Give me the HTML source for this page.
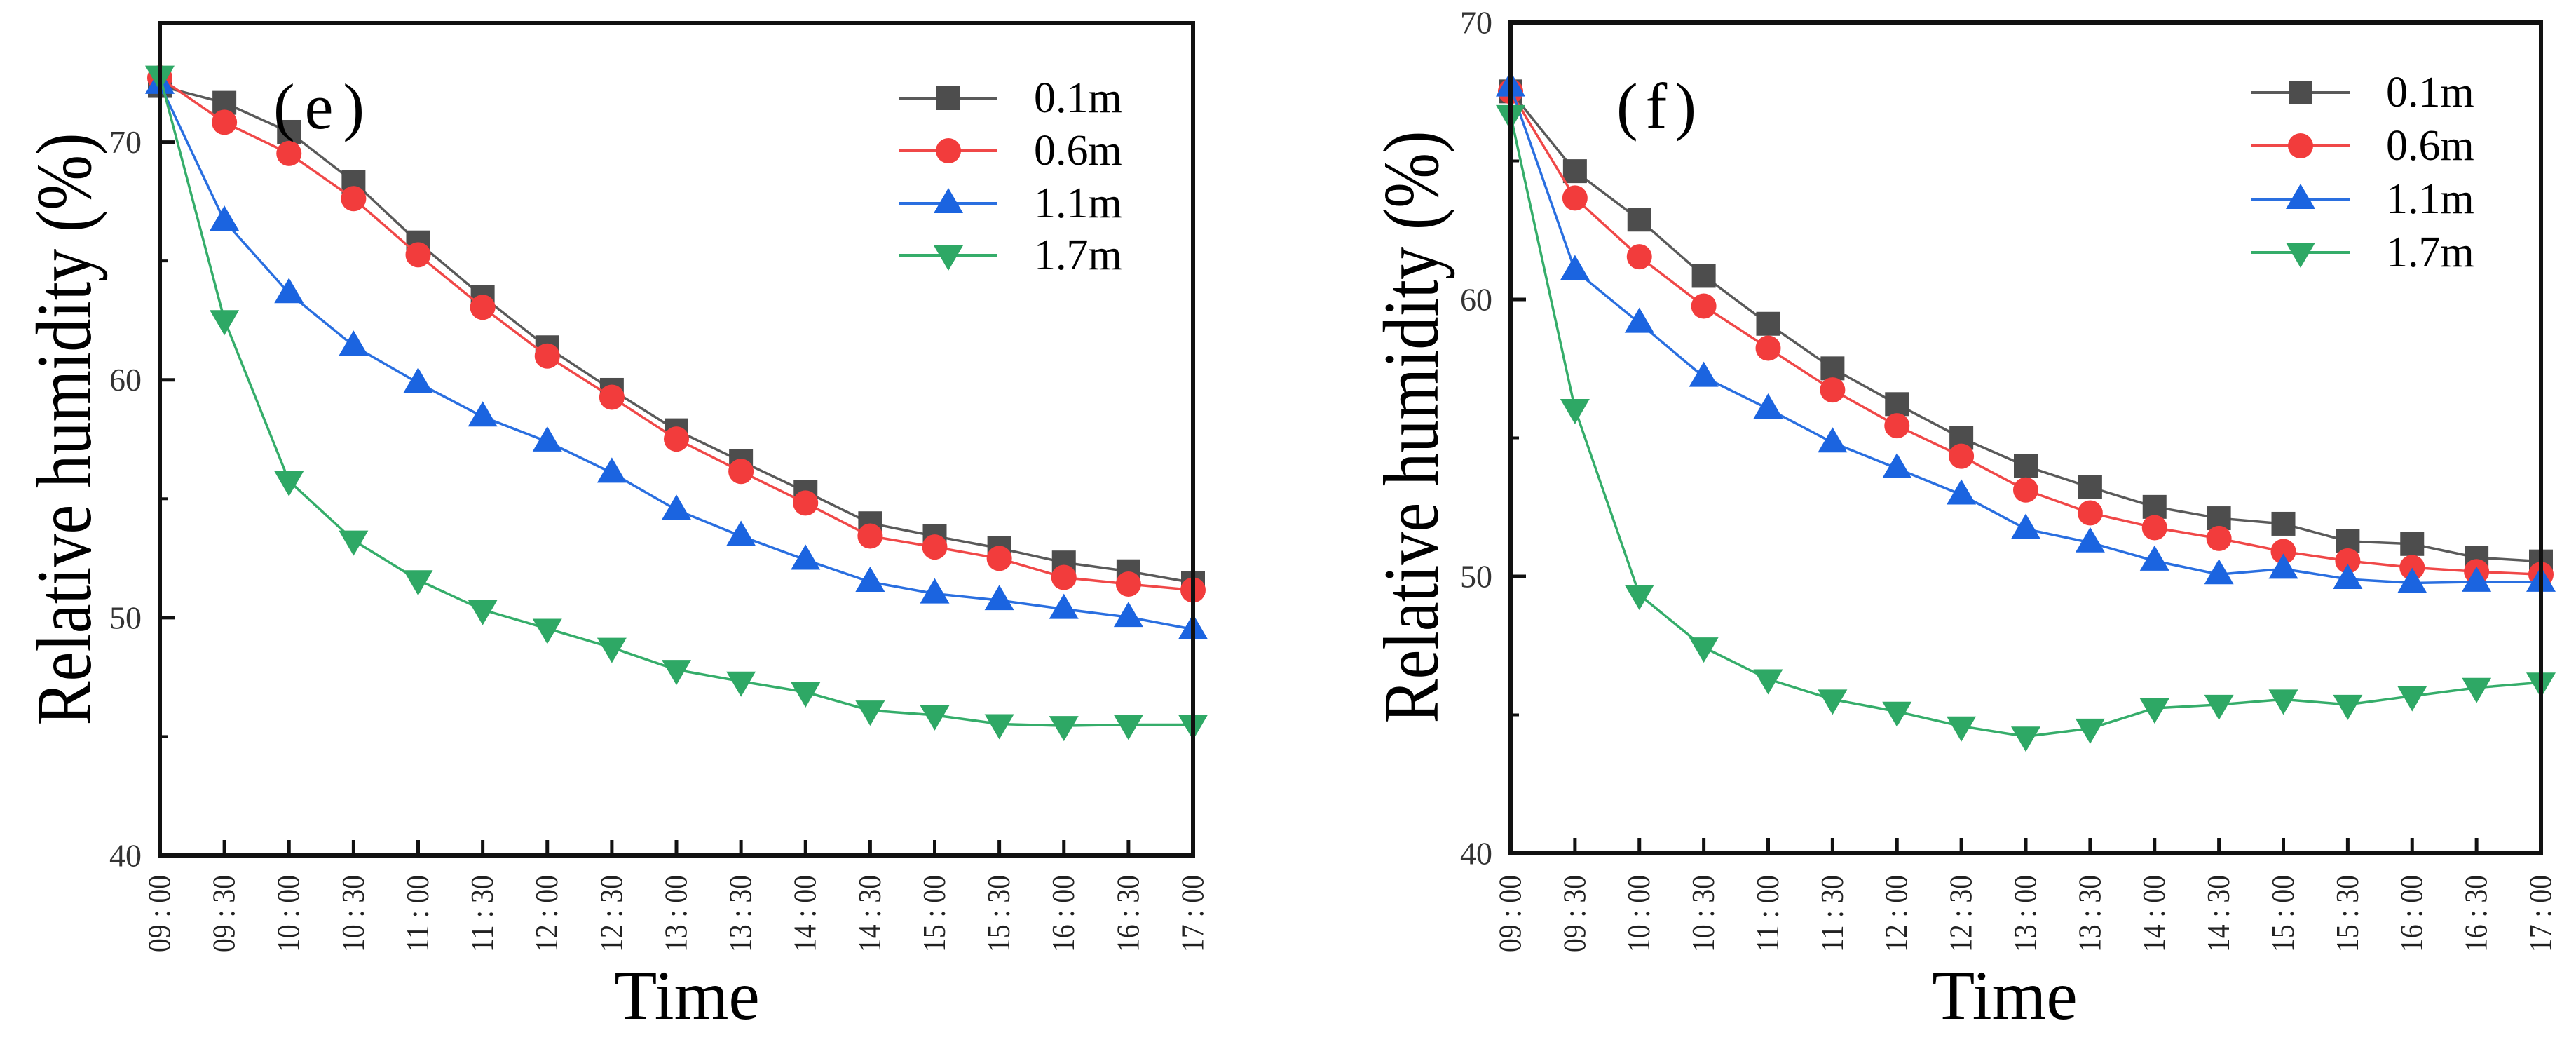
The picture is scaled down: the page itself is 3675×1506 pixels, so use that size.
<!DOCTYPE html>
<html><head><meta charset="utf-8"><style>
html,body{margin:0;padding:0;background:#fff;}
svg{display:block;}
svg text{font-family:"Liberation Serif",serif;}
</style></head><body>
<svg id="chart" width="3675" height="1506" viewBox="0 0 3675 1506" xmlns="http://www.w3.org/2000/svg"></svg>
<script>
const categories = ["09:00","09:30","10:00","10:30","11:00","11:30","12:00","12:30","13:00","13:30","14:00","14:30","15:00","15:30","16:00","16:30","17:00"];
const seriesNames = ["0.1m","0.6m","1.1m","1.7m"];
const eS01 = [72.36,71.65,70.43,68.33,65.78,63.5,61.37,59.58,57.88,56.58,55.3,53.97,53.43,52.92,52.32,51.95,51.47];
const eS06 = [72.7,70.83,69.52,67.62,65.26,63.05,61.0,59.27,57.51,56.15,54.82,53.43,52.97,52.49,51.69,51.41,51.16];
const eS11 = [72.44,66.68,63.64,61.43,59.87,58.45,57.4,56.09,54.53,53.43,52.43,51.5,51.01,50.73,50.36,50.02,49.51];
const eS17 = [72.8,62.52,55.75,53.25,51.58,50.33,49.54,48.74,47.81,47.32,46.87,46.1,45.9,45.53,45.45,45.5,45.5];
const fS01 = [67.51,64.63,62.88,60.85,59.12,57.51,56.22,55.0,53.98,53.22,52.51,52.1,51.9,51.27,51.17,50.68,50.54];
const fS06 = [67.51,63.66,61.54,59.76,58.24,56.73,55.44,54.34,53.12,52.29,51.76,51.37,50.9,50.56,50.32,50.17,50.07];
const fS11 = [67.68,61.05,59.15,57.2,56.05,54.83,53.9,52.95,51.71,51.22,50.56,50.07,50.27,49.9,49.76,49.8,49.8];
const fS17 = [66.66,56.05,49.34,47.44,46.29,45.56,45.12,44.59,44.22,44.51,45.24,45.37,45.56,45.37,45.68,45.98,46.17];
const eYTicks = [40,50,60,70];
const eYMinor = [45,55,65];
const eYRange = [40,75];
const fYTicks = [40,50,60,70];
const fYMinor = [45,55,65];
const fYRange = [40,70];

const NS = "http://www.w3.org/2000/svg";
const svg = document.getElementById("chart");
const FONT = '"Liberation Serif", serif';
function mk(tag, attrs, parent, text){
  const el = document.createElementNS(NS, tag);
  for (const k in attrs) el.setAttribute(k, attrs[k]);
  if (tag === "text") el.setAttribute("font-family", FONT);
  if (text !== undefined) el.textContent = text;
  (parent||svg).appendChild(el);
  return el;
}
function fitText(el, tx, ty, target){
  let w = 0;
  try { w = el.getComputedTextLength(); } catch(e) { w = 0; }
  const s = w > 0 ? target / w : 1;
  el.setAttribute("transform", `translate(${tx},${ty}) rotate(-90) scale(${s},1)`);
}
const colors = ["#4d4d4d","#f23c3c","#1b64e0","#2ea865"];
const lineColors = ["#5a5a5a","#f04848","#2a6fe0","#35ad6a"];
const shapes = ["square","circle","up","down"];

function marker(g, shape, cx, cy, color){
  let el;
  if (shape==="square") el = mk("rect",{x:cx-17,y:cy-17,width:34,height:34,fill:color},g);
  else if (shape==="circle") el = mk("circle",{cx:cx,cy:cy,r:18,fill:color},g);
  else if (shape==="up") el = mk("polygon",{points:`${cx},${cy-22} ${cx+21},${cy+14} ${cx-21},${cy+14}`,fill:color},g);
  else el = mk("polygon",{points:`${cx-21},${cy-14} ${cx+21},${cy-14} ${cx},${cy+22}`,fill:color},g);
  
  
}

function panel(cfg){
  const g = mk("g",{});
  
  
  const L=cfg.left,R=cfg.right,T=cfg.top,B=cfg.bottom;
  const xs = i => L + (R-L)*i/(categories.length-1);
  const ys = v => B - (v-cfg.yRange[0])/(cfg.yRange[1]-cfg.yRange[0])*(B-T);
  cfg.series.forEach((arr,si)=>{
    const sg = mk("g",{},g);
    
    
    const pts = arr.map((v,i)=>xs(i)+","+ys(v)).join(" ");
    const pl = mk("polyline",{points:pts,fill:"none",stroke:lineColors[si],"stroke-width":3.5},sg);
    
    
    arr.forEach((v,i)=>marker(sg,shapes[si],xs(i),ys(v),colors[si]));
  });
  const fr = mk("rect",{x:L,y:T,width:R-L,height:B-T,fill:"none",stroke:"#111","stroke-width":6},g);
  
  
  cfg.yTicks.forEach(v=>{
    const y=ys(v);
    const t = mk("line",{x1:L,y1:y,x2:L+22,y2:y,stroke:"#111","stroke-width":5},g);
    
    
    const lb = mk("text",{x:L-26,y:y,"text-anchor":"end","dominant-baseline":"central","font-size":46,fill:"#333"},g,String(v));
    
    
  });
  cfg.yMinor.forEach(v=>{
    const y=ys(v);
    const t = mk("line",{x1:L,y1:y,x2:L+12,y2:y,stroke:"#111","stroke-width":4},g);
    
    
  });
  categories.forEach((c,i)=>{
    const x=xs(i);
    const t = mk("line",{x1:x,y1:B,x2:x,y2:B-22,stroke:"#111","stroke-width":5},g);
    
    
    const lb = mk("text",{x:0,y:0,"text-anchor":"end","dominant-baseline":"central","font-size":46,fill:"#222"},g,c.replace(":"," : "));
    fitText(lb, x, 1248, 110);
    
    
  });
  const xt = mk("text",{x:cfg.timeX,y:1453,"text-anchor":"middle","font-size":100,fill:"#000"},g,"Time");
  
  
  const yt = mk("text",{x:0,y:0,"text-anchor":"middle","dominant-baseline":"central","font-size":112,fill:"#000"},g,"Relative humidity (%)");
  fitText(yt, cfg.yTitleX, cfg.yTitleY, 845);
  
  
  const pl = mk("text",{x:cfg.tagX,y:cfg.tagY,"text-anchor":"middle","dominant-baseline":"central","font-size":92,fill:"#000",textLength:cfg.tagW,lengthAdjust:"spacing"},g,cfg.tag);
  
  
  const lg = mk("g",{},g);
  
  
  seriesNames.forEach((n,si)=>{
    const y = cfg.legY[si];
    const eg = mk("g",{},lg);
    
    
    mk("line",{x1:cfg.legX-70,y1:y,x2:cfg.legX+70,y2:y,stroke:lineColors[si],"stroke-width":4},eg);
    marker(eg,shapes[si],cfg.legX,y,colors[si]);
    const t = mk("text",{x:cfg.legX+122,y:y,"dominant-baseline":"central","font-size":62,fill:"#000"},eg,n);
    
    
  });
}

panel({name:"panel-e",left:228,right:1702,top:33,bottom:1220,yRange:eYRange,yTicks:eYTicks,yMinor:eYMinor,
  series:[eS01,eS06,eS11,eS17],timeX:980,yTitleX:92,yTitleY:612,tag:"(e)",tagX:455,tagY:152,tagW:130,
  legX:1353,legY:[140,215,290,364]});
panel({name:"panel-f",left:2155,right:3625,top:32,bottom:1217,yRange:fYRange,yTicks:fYTicks,yMinor:fYMinor,
  series:[fS01,fS06,fS11,fS17],timeX:2860,yTitleX:2014,yTitleY:609,tag:"(f)",tagX:2363,tagY:151,tagW:114,
  legX:3282,legY:[132,208,284,360]});
</script>
</body></html>
